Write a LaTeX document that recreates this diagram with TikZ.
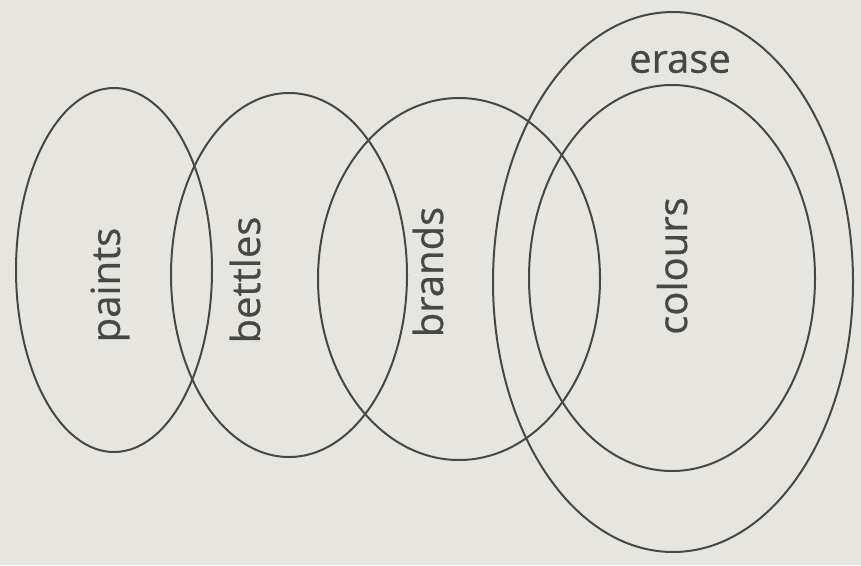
\documentclass[tikz,border=0pt]{standalone}
\usepackage{fontspec}
\setmainfont[FakeBold=0.6]{Open Sans}
\definecolor{paper}{HTML}{E7E5DF}
\definecolor{ink}{HTML}{474745}
\begin{document}
\begin{tikzpicture}[x=1pt,y=-1pt,
  ring/.style={draw=ink,line width=2pt},
  lbl/.style={text=ink,font=\fontsize{40}{40}\selectfont,inner sep=0pt}]
\fill[paper] (0,0) rectangle (861,565);
\useasboundingbox (0,0) rectangle (861,565);
\draw[ring] (114,270) ellipse [x radius=98, y radius=182];
\draw[ring] (289,275) ellipse [x radius=118, y radius=182];
\draw[ring] (459,279) ellipse [x radius=141, y radius=181];
\draw[ring] (673,282) ellipse [x radius=180, y radius=270];
\draw[ring] (672,278) ellipse [x radius=143, y radius=193];
\node[lbl,rotate=90] (paints) at (110,285) {paints};
\node[lbl,rotate=90] (bettles) at (245,280) {bettles};
\node[lbl,rotate=90] (brands) at (428,272) {brands};
\node[lbl,rotate=90] (colours) at (672,266) {colours};
\node[lbl] (erase) at (680,62) {erase};
\end{tikzpicture}
\end{document}
